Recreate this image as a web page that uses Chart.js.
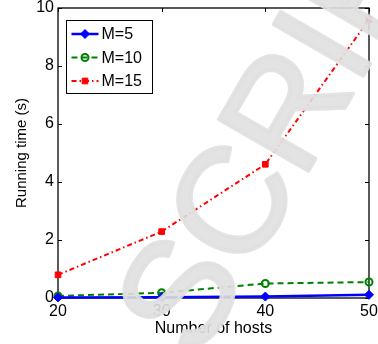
<!DOCTYPE html>
<html>
<head>
<meta charset="utf-8">
<script src="https://cdn.jsdelivr.net/npm/chart.js@4/dist/chart.umd.min.js"></script>
<style>
  html, body { margin: 0; padding: 0; background: #fff; }
  #wrap { width: 378px; height: 344px; }
</style>
</head>
<body>
<div id="wrap"><canvas id="grafico" width="378" height="344"></canvas></div>
<script>
// Dados
const hosts = ['20', '30', '40', '50'];
const tempoM5 = [0.02, 0.03, 0.05, 0.11];
const tempoM10 = [0.07, 0.18, 0.50, 0.55];
const tempoM15 = [0.80, 2.29, 4.61, 9.6];
const ticksY = [0, 2, 4, 6, 8, 10];

const fonte = "'Liberation Sans', Arial, sans-serif";

// moldura estilo MATLAB com marcas para dentro
const molduraPlugin = {
    id: 'moldura',
    beforeDatasetsDraw(chart) {
        const { ctx, chartArea: a, scales } = chart;
        ctx.save();
        ctx.strokeStyle = '#000';
        ctx.lineWidth = 1.3;
        ctx.strokeRect(a.left, a.top, a.right - a.left, a.bottom - a.top);
        ctx.lineWidth = 1;
        ctx.beginPath();
        ticksY.forEach(v => {
            const py = Math.round(scales.y.getPixelForValue(v)) + 0.5;
            ctx.moveTo(a.left, py); ctx.lineTo(a.left + 4, py);
            ctx.moveTo(a.right, py); ctx.lineTo(a.right - 4, py);
        });
        hosts.forEach((h, i) => {
            const px = Math.round(scales.x.getPixelForValue(i)) + 0.5;
            ctx.moveTo(px, a.bottom); ctx.lineTo(px, a.bottom - 4);
            ctx.moveTo(px, a.top); ctx.lineTo(px, a.top + 4);
        });
        ctx.stroke();
        ctx.restore();
    }
};

// legenda com caixa
const legendaPlugin = {
    id: 'legendaCaixa',
    afterDatasetsDraw(chart) {
        const { ctx, chartArea: a } = chart;
        const bx = a.left + 8.5, by = a.top + 12.5, bw = 86, bh = 73;
        ctx.save();
        ctx.fillStyle = '#fff';
        ctx.fillRect(bx, by, bw, bh);
        ctx.strokeStyle = '#000';
        ctx.lineWidth = 1;
        ctx.strokeRect(bx, by, bw, bh);
        chart.data.datasets.forEach((ds, i) => {
            const cy = by + 13.5 + i * 23.5;
            const x0 = bx + 5, x1 = bx + 32;
            ctx.strokeStyle = ds.borderColor;
            ctx.lineWidth = ds.borderWidth;
            ctx.setLineDash(ds.borderDash || []);
            ctx.beginPath();
            ctx.moveTo(x0, cy); ctx.lineTo(x1, cy);
            ctx.stroke();
            ctx.setLineDash([]);
            ctx.fillStyle = ds.pointBackgroundColor;
            ctx.lineWidth = ds.pointBorderWidth;
            Chart.helpers.drawPoint(ctx, {
                pointStyle: ds.pointStyle,
                radius: ds.pointRadius,
                rotation: 0,
                borderWidth: ds.pointBorderWidth
            }, (x0 + x1) / 2, cy);
            ctx.fillStyle = '#000';
            ctx.font = '16px ' + fonte;
            ctx.textBaseline = 'middle';
            ctx.fillText(ds.label, x1 + 3, cy + 1);
        });
        ctx.restore();
    }
};

// marca d'água por cima de tudo
const marcaPlugin = {
    id: 'marca',
    afterDraw(chart) {
        const { ctx } = chart;
        ctx.save();
        ctx.globalAlpha = 0.9;
        ctx.translate(198, 362);
        ctx.rotate(-60 * Math.PI / 180);
        ctx.fillStyle = '#e0e0e0';
        ctx.strokeStyle = '#e0e0e0';
        ctx.lineWidth = 4;
        ctx.lineJoin = 'round';
        ctx.font = '150px ' + fonte;
        ctx.textBaseline = 'alphabetic';
        ctx.strokeText('SCRIPT', 0, 0);
        ctx.fillText('SCRIPT', 0, 0);
        ctx.restore();
    }
};

const ctx = document.getElementById('grafico').getContext('2d');
new Chart(ctx, {
    type: 'line',
    data: {
        labels: hosts,
        datasets: [
            {
                label: 'M=5',
                data: tempoM5,
                borderColor: '#0000ff',
                borderWidth: 2.5,
                pointStyle: 'rectRot',
                pointRadius: 4.5,
                pointBackgroundColor: '#0000ff',
                pointBorderColor: '#0000ff',
                pointBorderWidth: 1,
                clip: false
            },
            {
                label: 'M=10',
                data: tempoM10,
                borderColor: '#008000',
                borderWidth: 2,
                borderDash: [6, 4],
                pointStyle: 'circle',
                pointRadius: 3.5,
                pointBackgroundColor: 'rgba(0,0,0,0)',
                pointBorderColor: '#008000',
                pointBorderWidth: 2,
                clip: false
            },
            {
                label: 'M=15',
                data: tempoM15,
                borderColor: '#ff0000',
                borderWidth: 2,
                borderDash: [5, 3, 1.5, 3],
                pointStyle: 'rect',
                pointRadius: 4,
                pointBackgroundColor: '#ff0000',
                pointBorderColor: '#ff0000',
                pointBorderWidth: 1,
                clip: false
            }
        ]
    },
    options: {
        responsive: false,
        animation: false,
        devicePixelRatio: 1,
        layout: { padding: { left: 0, right: 9, top: 8, bottom: 0 } },
        plugins: {
            legend: { display: false },
            tooltip: { enabled: false }
        },
        scales: {
            x: {
                type: 'category',
                offset: false,
                grid: { display: false, drawTicks: false },
                border: { display: false },
                ticks: { color: '#000', font: { family: fonte, size: 16 }, padding: 4, maxRotation: 0 },
                title: {
                    display: true,
                    text: 'Number of hosts',
                    color: '#000',
                    font: { family: fonte, size: 16 },
                    padding: { top: 0, bottom: 6 }
                },
                afterFit(s) { s.height = 46; s.paddingLeft = 0; s.paddingRight = 0; }
            },
            y: {
                min: 0,
                max: 10,
                grid: { display: false, drawTicks: false },
                border: { display: false },
                ticks: { stepSize: 2, color: '#000', font: { family: fonte, size: 16 }, padding: 4 },
                title: {
                    display: true,
                    text: 'Running time (s)',
                    color: '#000',
                    font: { family: fonte, size: 15 },
                    padding: { top: 13, bottom: 0 }
                },
                afterFit(s) { s.width = 58; s.paddingTop = 0; s.paddingBottom = 0; }
            }
        }
    },
    plugins: [molduraPlugin, legendaPlugin, marcaPlugin]
});
</script>
</body>
</html>
